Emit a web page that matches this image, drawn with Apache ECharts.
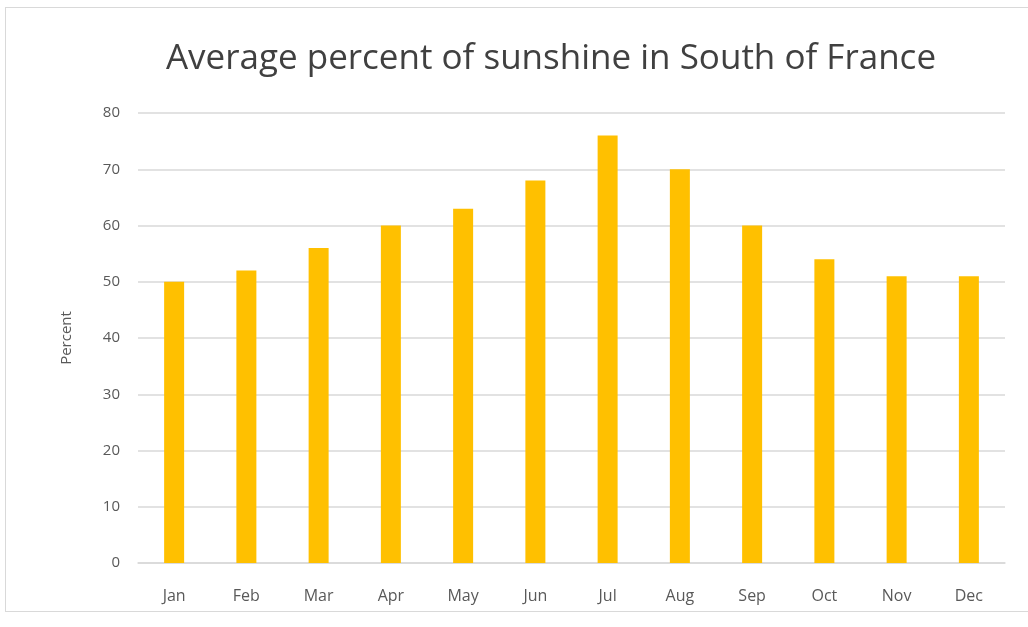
<!DOCTYPE html>
<html lang="en">
<head>
    <meta charset="UTF-8">
    <title>Sunshine chart</title>
    <style>
        html, body { margin: 0; padding: 0; background: #fff; }
        #frame { position: absolute; left: 5px; top: 7px; width: 1030px; height: 603px; border: 1px solid #d9d9d9; }
        #main { position: absolute; left: 0; top: 0; width: 1028px; height: 627px; }
    </style>
</head>
<body>
    <div id="frame"></div>
    <div id="main"></div>
    <script src="https://cdn.jsdelivr.net/npm/echarts@6/dist/echarts.min.js"></script>
    <script>
    // data
    var months = ['Jan', 'Feb', 'Mar', 'Apr', 'May', 'Jun', 'Jul', 'Aug', 'Sep', 'Oct', 'Nov', 'Dec'];
    var sunshine = [50, 52, 56, 60, 63, 68, 76, 70, 60, 54, 51, 51];
    var yTicks = { min: 0, max: 80, step: 10 };

    var myChart = echarts.init(document.getElementById('main'));
    var option = {
        backgroundColor: 'transparent',
        animation: false,
        title: {
            text: 'Average percent of sunshine in South of France',
            left: 546,
            top: 37,
            textAlign: 'center',
            textStyle: {
                fontFamily: 'Open Sans',
                fontWeight: 'normal',
                fontSize: 35,
                color: '#404040'
            }
        },
        grid: { left: 138, right: 23, top: 113, bottom: 64 },
        xAxis: {
            type: 'category',
            data: months,
            axisLine: { show: true, lineStyle: { color: '#d9d9d9', width: 1.5 } },
            axisTick: { show: false },
            axisLabel: { color: '#595959', fontSize: 16, fontFamily: 'Open Sans', margin: 25 }
        },
        yAxis: {
            type: 'value',
            min: yTicks.min,
            max: yTicks.max,
            interval: yTicks.step,
            name: 'Percent',
            nameLocation: 'middle',
            nameGap: 64,
            nameRotate: 90,
            nameTextStyle: { color: '#595959', fontSize: 15, fontFamily: 'Open Sans' },
            axisLine: { show: false },
            axisTick: { show: false },
            axisLabel: { color: '#595959', fontSize: 15, fontFamily: 'Open Sans', margin: 18 },
            splitLine: { lineStyle: { color: '#d9d9d9', width: 1.5 } }
        },
        series: [{
            type: 'bar',
            data: sunshine,
            barWidth: 20,
            itemStyle: { color: '#FFC000' }
        }]
    };
    myChart.setOption(option);
    </script>
</body>
</html>
